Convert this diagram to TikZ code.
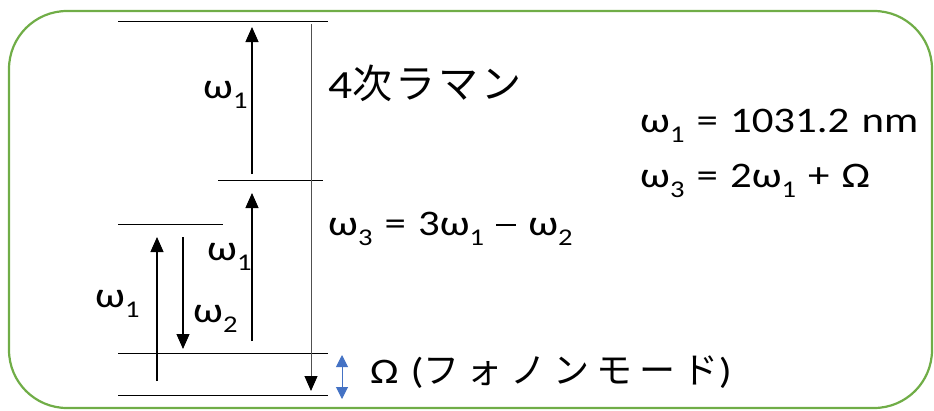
\documentclass[tikz,border=0pt]{standalone}
\usepackage{fontspec}
\setmainfont{Carlito}[FakeStretch=1.19, WordSpace=1.25, Numbers=Lining]
\newfontfamily\jpa{Noto Sans CJK JP}[LetterSpace=8]
\newfontfamily\jpb{Noto Sans CJK JP}[LetterSpace=20]
\usetikzlibrary{arrows.meta}
\newcommand\sbs[1]{\raisebox{-10pt}{\fontsize{24}{24}\selectfont #1}}
\newcommand\mns{\raisebox{9pt}{\rule{20pt}{2.2pt}}}
\definecolor{boxgreen}{RGB}{112,173,71}
\definecolor{arrowblue}{RGB}{68,114,196}
\definecolor{longgray}{RGB}{80,80,80}
\tikzset{
  level/.style={line width=0.9pt, black},
  up/.style={line width=1.1pt, -{Triangle[width=13pt,length=15pt]}},
  lbl/.style={anchor=base west, inner sep=0pt, font=\fontsize{36}{40}\selectfont},
}
\begin{document}
\begin{tikzpicture}[x=1pt,y=-1pt]
\useasboundingbox (0,0) rectangle (934,410);
\draw[line width=2.2pt, draw=boxgreen, rounded corners=58pt] (9,11) rectangle (932,408);
% levels
\coordinate (L1a) at (118,21);  \coordinate (L1b) at (328,21);
\coordinate (L2a) at (218,180); \coordinate (L2b) at (323,180);
\coordinate (L3a) at (118,224); \coordinate (L3b) at (223,224);
\coordinate (L4a) at (118,353); \coordinate (L4b) at (328,353);
\coordinate (L5a) at (118,395); \coordinate (L5b) at (328,395);
\foreach \n in {1,...,5} \draw[level] (L\n a) -- (L\n b);
% arrow ends
\coordinate (a1s) at (252,174); \coordinate (a1e) at (252,27);
\coordinate (a2s) at (252,341); \coordinate (a2e) at (252,193);
\coordinate (a3s) at (157,381); \coordinate (a3e) at (157,237);
\coordinate (a4s) at (183,237); \coordinate (a4e) at (183,349);
\coordinate (a5s) at (311,24);  \coordinate (a5e) at (311,391);
\coordinate (bs) at (342,355);  \coordinate (be) at (342,399);
\draw[up] (a1s) -- (a1e);
\draw[up] (a2s) -- (a2e);
\draw[up] (a3s) -- (a3e);
\draw[up] (a4s) -- (a4e);
\draw[line width=1pt, draw=longgray, -{Triangle[width=13pt,length=15pt,color=black]}] (a5s) -- (a5e);
\draw[line width=1pt, draw=arrowblue, {Triangle[width=12pt,length=12pt]}-{Triangle[width=12pt,length=12pt]}] (bs) -- (be);
% labels
\node[lbl] (w1a) at (203,98) {ω\sbs{1}};
\node[lbl] (w1b) at (207,260) {ω\sbs{1}};
\node[lbl] (w1c) at (95,307) {ω\sbs{1}};
\node[lbl] (w2) at (193,322) {ω\sbs{2}};
\node[lbl, font=\fontsize{40}{44}\selectfont] (t4) at (328,98) {4{\jpa 次ラマン}};
\node[lbl] (eq3) at (328,235) {ω\sbs{3} = 3ω\sbs{1} \mns{} ω\sbs{2}};
\node[lbl] (r1) at (640,132) {ω\sbs{1} = 1031.2 nm};
\node[lbl] (r2) at (640,187) {ω\sbs{3} = 2ω\sbs{1} + Ω};
\node[lbl] (om) at (370,383) {Ω ({\jpb フォノンモード})};
\end{tikzpicture}
\end{document}
